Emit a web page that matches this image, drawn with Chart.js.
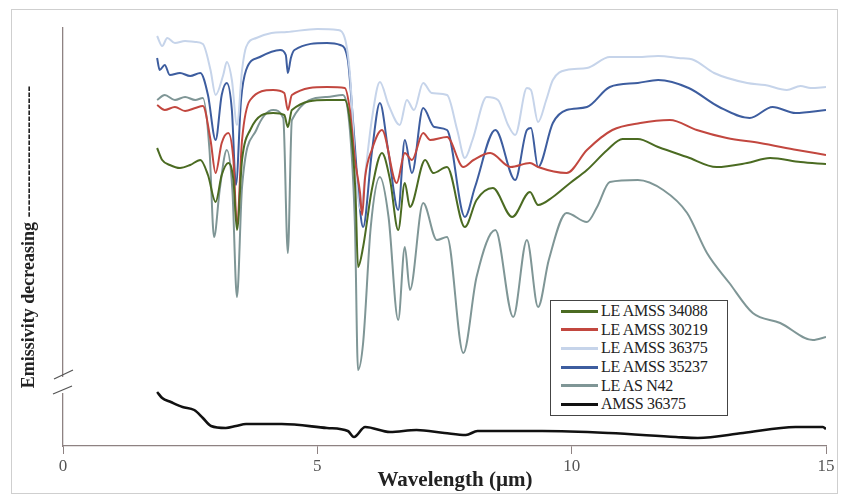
<!DOCTYPE html>
<html>
<head>
<meta charset="utf-8">
<script src="https://cdn.jsdelivr.net/npm/chart.js@4/dist/chart.umd.min.js"></script>
<style>
    body { margin: 0; background: #fff; }
    #wrap { position: relative; width: 841px; height: 497px; }
    #leyenda {
        position: absolute; left: 550px; top: 300px; width: 176px;
        border: 1px solid #444; background: #fff;
        font-family: "Liberation Serif", serif; font-size: 16px; color: #222;
        padding: 1px 0;
    }
    .fila { display: flex; align-items: center; height: 18.6px; white-space: nowrap; letter-spacing: -0.3px; }
    .muestra { width: 37px; margin: 0 3px 0 10px; }
</style>
</head>
<body>
<div id="wrap">
    <canvas id="espectroChart" width="841" height="497"></canvas>
    <div id="leyenda"></div>
</div>
<script>
// wavelength (um) and relative emissivity (arbitrary units)
const etiquetas = ['LE AMSS 34088', 'LE AMSS 30219', 'LE AMSS 36375', 'LE AMSS 35237', 'LE AS N42', 'AMSS 36375'];
const colores = ['#4b6b22', '#c2473f', '#c6d4ea', '#3d5d9f', '#7f9696', '#111111'];

const xVerde = [1.85, 1.95, 2.1, 2.3, 2.5, 2.7, 2.85, 3.0, 3.12, 3.25, 3.35, 3.42, 3.52, 3.68, 4.13, 4.35, 4.42, 4.5, 5.19, 5.54, 5.66, 5.75, 5.8, 5.9, 6.07, 6.27, 6.43, 6.59, 6.72, 6.82, 7.12, 7.28, 7.55, 7.9, 8.13, 8.45, 8.83, 9.18, 9.34, 9.63, 9.97, 10.3, 10.7, 11.0, 11.3, 11.7, 12.27, 12.85, 13.45, 13.9, 14.5, 15];
const yVerde = [298, 286, 281, 278, 281, 286, 271, 244, 271, 283, 266, 216, 286, 316, 333, 331, 319, 336, 346, 346, 316, 253, 179, 199, 256, 293, 266, 216, 263, 239, 286, 273, 279, 219, 246, 258, 229, 254, 241, 249, 263, 276, 296, 307, 307, 299, 289, 279, 283, 288, 284, 282];

const xRojo = [1.85, 2.0, 2.2, 2.4, 2.6, 2.75, 2.9, 3.0, 3.12, 3.25, 3.35, 3.42, 3.52, 3.68, 4.13, 4.35, 4.42, 4.5, 5.19, 5.54, 5.64, 5.74, 5.84, 5.88, 5.94, 6.07, 6.27, 6.56, 6.72, 6.86, 7.08, 7.22, 7.55, 7.87, 8.07, 8.4, 8.8, 9.18, 9.34, 9.9, 10.3, 10.8, 11.35, 11.93, 12.46, 13.05, 13.7, 14.43, 15];
const yRojo = [341, 336, 339, 335, 338, 340, 306, 273, 303, 313, 286, 221, 306, 346, 356, 353, 336, 351, 359, 358, 336, 286, 253, 231, 269, 296, 316, 263, 293, 286, 313, 306, 309, 279, 286, 293, 279, 283, 279, 273, 296, 316, 323, 326, 316, 308, 303, 296, 291];

const xCeleste = [1.85, 1.95, 2.05, 2.2, 2.4, 2.6, 2.75, 2.9, 3.0, 3.15, 3.22, 3.32, 3.42, 3.52, 3.6, 3.8, 4.1, 4.4, 5.0, 5.4, 5.55, 5.65, 5.75, 5.85, 5.95, 6.07, 6.23, 6.4, 6.62, 6.76, 6.9, 7.08, 7.25, 7.55, 7.75, 7.9, 8.05, 8.33, 8.55, 8.75, 8.89, 9.12, 9.2, 9.34, 9.5, 9.63, 9.9, 10.3, 10.75, 11.3, 11.7, 12.1, 12.4, 12.8, 13.45, 13.8, 14.23, 14.5, 14.7, 15];
const yCeleste = [410, 400, 408, 403, 405, 404, 402, 376, 351, 371, 384, 366, 321, 376, 399, 408, 413, 414, 417, 416, 406, 366, 276, 236, 276, 326, 364, 341, 321, 346, 336, 363, 353, 351, 316, 288, 306, 349, 346, 321, 311, 358, 356, 324, 346, 366, 376, 378, 389, 389, 390, 388, 386, 373, 363, 361, 356, 360, 358, 359];

const xAzul = [1.85, 1.9, 2.0, 2.1, 2.3, 2.5, 2.7, 2.85, 3.0, 3.12, 3.22, 3.32, 3.4, 3.5, 3.6, 3.87, 4.27, 4.38, 4.42, 4.48, 4.55, 5.19, 5.45, 5.6, 5.7, 5.82, 5.9, 6.07, 6.23, 6.4, 6.59, 6.72, 6.86, 7.08, 7.3, 7.55, 7.9, 8.1, 8.5, 8.89, 9.12, 9.2, 9.34, 9.63, 9.9, 10.3, 10.75, 11.3, 11.7, 12.3, 12.9, 13.5, 13.95, 14.4, 15];
const yAzul = [388, 376, 381, 371, 373, 370, 373, 351, 306, 351, 363, 336, 261, 346, 376, 389, 396, 391, 373, 388, 396, 403, 401, 386, 326, 246, 219, 293, 343, 293, 236, 306, 273, 338, 319, 316, 229, 259, 316, 266, 316, 318, 279, 323, 336, 339, 359, 363, 366, 358, 339, 328, 339, 333, 336];

const xGris = [1.85, 2.0, 2.2, 2.4, 2.6, 2.75, 2.88, 2.97, 3.08, 3.22, 3.33, 3.42, 3.52, 3.8, 4.13, 4.33, 4.42, 4.5, 5.19, 5.5, 5.64, 5.74, 5.8, 5.9, 6.05, 6.23, 6.4, 6.59, 6.72, 6.82, 7.08, 7.35, 7.55, 7.87, 8.13, 8.5, 8.85, 9.12, 9.34, 9.55, 9.9, 10.3, 10.5, 10.75, 11.3, 11.8, 12.27, 12.66, 13.1, 13.56, 14.1, 14.74, 15];
const yGris = [346, 351, 346, 349, 346, 348, 296, 209, 256, 296, 256, 149, 259, 316, 336, 328, 193, 326, 349, 351, 316, 219, 76, 103, 219, 269, 229, 126, 199, 156, 243, 206, 209, 93, 169, 216, 129, 206, 139, 186, 233, 224, 239, 264, 266, 256, 233, 193, 163, 133, 123, 106, 109];

const xNegro = [1.85, 1.95, 2.12, 2.35, 2.58, 2.75, 2.91, 3.2, 3.4, 3.6, 4.3, 5.19, 5.6, 5.72, 5.94, 6.43, 6.95, 7.5, 7.92, 8.15, 9.42, 10.73, 12.05, 12.48, 13.37, 14.4, 14.94, 15];
const yNegro = [54, 48, 44, 39, 36, 28, 20, 18, 20, 22, 22, 18, 15, 9, 19, 14, 16, 13, 11, 15, 15, 13, 9, 8, 13, 19, 19, 17];

const xTicks = [0, 5, 10, 15];
const corteEje = 61; // where the y axis is broken

const series = [
    [xVerde, yVerde], [xRojo, yRojo], [xCeleste, yCeleste],
    [xAzul, yAzul], [xGris, yGris], [xNegro, yNegro]
];

const datasets = series.map((s, i) => ({
    label: etiquetas[i],
    data: s[0].map((x, j) => ({ x: x, y: s[1][j] })),
    borderColor: colores[i],
    borderWidth: i === 5 ? 2.6 : 2,
    pointRadius: 0,
    cubicInterpolationMode: 'monotone',
    fill: false
}));

// draws the frame around the figure and the // break on the y axis
const decoracion = {
    id: 'decoracion',
    beforeDraw(chart) {
        const c = chart.ctx;
        c.save();
        c.fillStyle = '#fff';
        c.fillRect(0, 0, chart.width, chart.height);
        c.strokeStyle = '#cfcfcf';
        c.lineWidth = 1;
        c.strokeRect(11.5, 9.5, 826, 484);
        c.restore();
    },
    afterDraw(chart) {
        const c = chart.ctx;
        const yp = chart.scales.y.getPixelForValue(corteEje);
        const xp = chart.chartArea.left;
        c.save();
        c.fillStyle = '#fff';
        c.fillRect(xp - 3, yp - 8, 6, 16);
        c.strokeStyle = '#555';
        c.lineWidth = 1.3;
        c.beginPath();
        c.moveTo(xp - 9, yp - 6); c.lineTo(xp + 10, yp - 15);
        c.moveTo(xp - 10, yp + 9); c.lineTo(xp + 9, yp + 1);
        c.stroke();
        c.restore();
    }
};

const ctx = document.getElementById('espectroChart').getContext('2d');
const espectroChart = new Chart(ctx, {
    type: 'line',
    data: { datasets: datasets },
    plugins: [decoracion],
    options: {
        responsive: false,
        animation: false,
        layout: { padding: { left: 0, top: 28, right: 15, bottom: 0 } },
        plugins: {
            legend: { display: false },
            tooltip: { enabled: false }
        },
        scales: {
            x: {
                type: 'linear',
                min: 0,
                max: 15,
                afterBuildTicks: s => { s.ticks = xTicks.map(v => ({ value: v })); },
                afterFit: s => { s.height = 51; },
                border: { display: true, color: '#8e8282', width: 1.3 },
                grid: { drawOnChartArea: false, drawTicks: true, tickLength: 8, color: '#8e8282' },
                ticks: { padding: 2, color: '#555', font: { family: 'Liberation Serif', size: 17 } },
                title: {
                    display: true,
                    text: '    Wavelength (\u00b5m)',
                    color: '#222',
                    padding: { top: 0, bottom: 4 },
                    font: { family: 'Liberation Serif', size: 21, weight: 'bold' }
                }
            },
            y: {
                min: 0,
                max: 418,
                afterFit: s => { s.width = 63; },
                border: { display: true, color: '#8e8282', width: 1.3 },
                grid: { display: false },
                ticks: { display: false },
                title: {
                    display: true,
                    text: 'Emissivity decreasing ----------------------',
                    color: '#222',
                    padding: { top: 19, bottom: 0 },
                    font: { family: 'Liberation Serif', size: 18, weight: 'bold' }
                }
            }
        }
    }
});

// legend box built from the datasets
const leyenda = document.getElementById('leyenda');
espectroChart.data.datasets.forEach(ds => {
    leyenda.innerHTML += `
        <div class="fila">
            <span class="muestra" style="border-top: 3px solid ${ds.borderColor};"></span>
            <span>${ds.label}</span>
        </div>`;
});
</script>
</body>
</html>
